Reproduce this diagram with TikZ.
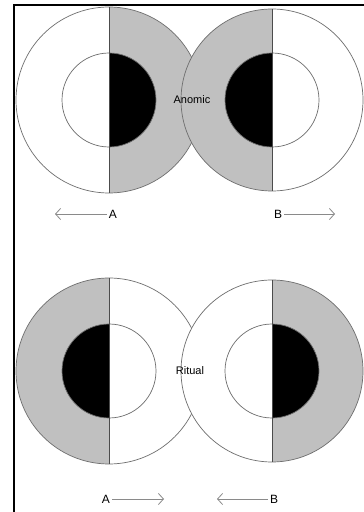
\documentclass[tikz,border=0pt]{standalone}
\usepackage{fontspec}
\setmainfont{Liberation Sans}
\usetikzlibrary{arrows.meta}
\definecolor{halfgray}{HTML}{C0C0C0}
\definecolor{rim}{HTML}{6E6E6E}
\definecolor{arr}{HTML}{8A8A8A}
\newcommand\mydisk[8]{%
  \fill[#5] (#1,#2) ++(90:#3) arc[start angle=90,end angle=270,radius=#3] -- cycle;
  \fill[#6] (#1,#2) ++(-90:#3) arc[start angle=-90,end angle=90,radius=#3] -- cycle;
  \fill[#7] (#1,#2) ++(90:#4) arc[start angle=90,end angle=270,radius=#4] -- cycle;
  \fill[#8] (#1,#2) ++(-90:#4) arc[start angle=-90,end angle=90,radius=#4] -- cycle;
  \draw[rimline] (#1,#2) circle[radius=#3];
  \draw[rimline] (#1,#2) circle[radius=#4];
  \draw[divline] (#1,#2+#3) -- (#1,#2-#3);
}
\tikzset{
  rimline/.style={draw=rim,line width=0.7pt},
  divline/.style={draw=black!70,line width=0.9pt},
  lbl/.style={font=\fontsize{11}{13}\selectfont,inner sep=1pt},
  letter/.style={font=\fontsize{12}{14}\selectfont,inner sep=2pt},
  dirarrow/.style={draw=arr,line width=0.8pt,-{Straight Barb[length=5pt,width=11pt]}}
}
\begin{document}
\begin{tikzpicture}[x=1pt,y=1pt]
\useasboundingbox (0,0) rectangle (364,512);
\fill[white] (0,0) rectangle (364,512);
% frame
\draw[black,line width=1.5pt] (14,0) -- (14,507) -- (364,507);
% top pair
\mydisk{109}{412}{93}{47}{white}{halfgray}{white}{black}
\mydisk{272}{412}{91}{47}{halfgray}{white}{black}{white}
\node[lbl] (anomic) at (192,412) {Anomic};
% bottom pair
\mydisk{109}{141}{93}{47}{halfgray}{white}{black}{white}
\mydisk{272}{141}{91}{47}{white}{halfgray}{white}{black}
\node[lbl] (ritual) at (190,141) {Ritual};
% top labels
\node[letter] (a1) at (113,298) {A};
\coordinate (a1end) at (55,298);
\draw[dirarrow] (a1.west) -- (a1end);
\node[letter] (b1) at (278,298) {B};
\coordinate (b1end) at (335,298);
\draw[dirarrow] (b1.east) -- (b1end);
% bottom labels
\node[letter] (a2) at (106,13) {A};
\coordinate (a2end) at (164,13);
\draw[dirarrow] (a2.east) -- (a2end);
\node[letter] (b2) at (274,13) {B};
\coordinate (b2end) at (217,13);
\draw[dirarrow] (b2.west) -- (b2end);
\end{tikzpicture}
\end{document}
